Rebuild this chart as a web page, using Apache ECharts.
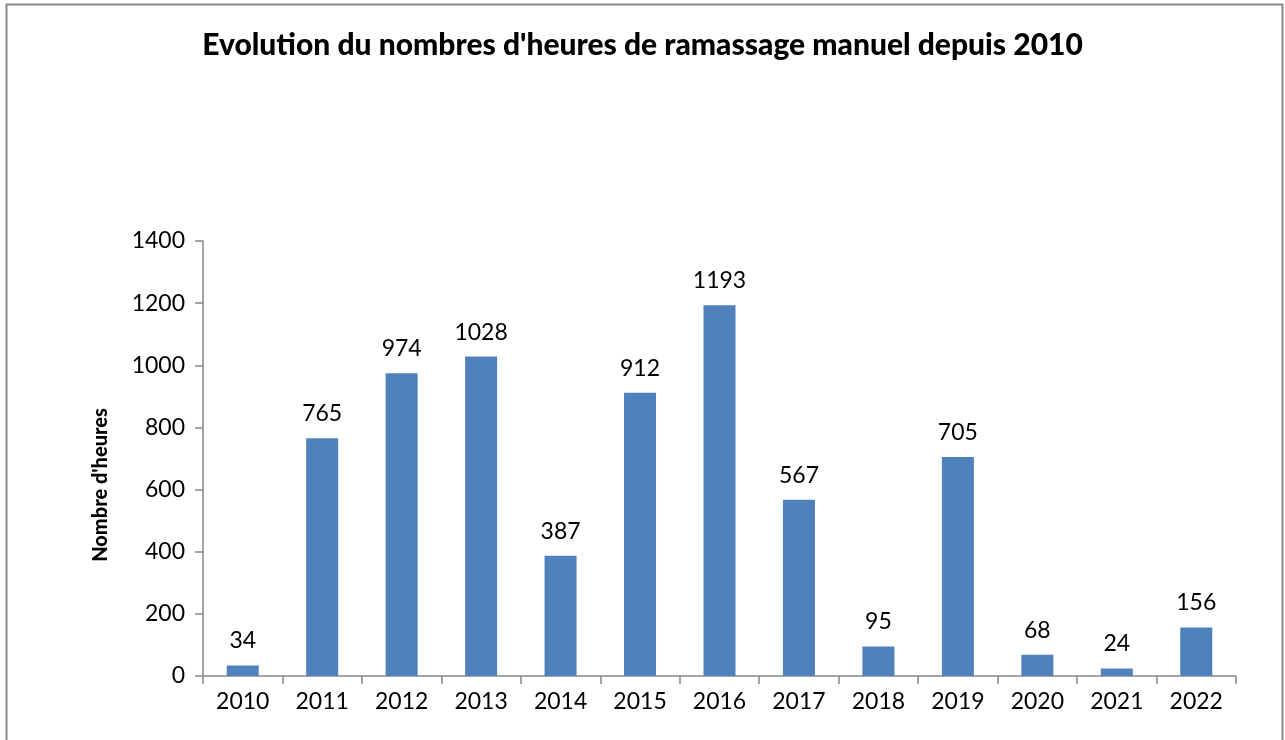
<!DOCTYPE html>
<html>
<head>
<meta charset="utf-8">
<script src="https://cdn.jsdelivr.net/npm/echarts@6/dist/echarts.min.js"></script>
<style>
html,body{margin:0;padding:0;background:#fff;}
#chart{width:1285px;height:740px;}
</style>
</head>
<body>
<div id="chart"></div>
<script>
const categories = ['2010','2011','2012','2013','2014','2015','2016','2017','2018','2019','2020','2021','2022'];
const hours = [34, 765, 974, 1028, 387, 912, 1193, 567, 95, 705, 68, 24, 156];
const yTicks = {min: 0, max: 1400, interval: 200};
const titleText = "Evolution du nombres d'heures de ramassage manuel depuis 2010";
const yAxisName = "Nombre d'heures";

const chart = echarts.init(document.getElementById('chart'), null, {renderer: 'canvas'});
const axisColor = '#868686';
const font = 'Lato, "Open Sans", sans-serif';
chart.setOption({
  backgroundColor: '#fff',
  animation: false,
  title: {
    text: titleText,
    left: 'center',
    top: 25,
    textStyle: {fontFamily: font, fontWeight: 900, fontSize: 30, color: '#000'}
  },
  graphic: [
    {type: 'rect', shape: {x: 6.5, y: 4.5, width: 1276, height: 760}, style: {fill: 'none', stroke: '#878787', lineWidth: 2}, silent: true},
    {type: 'text', x: 101, y: 485, rotation: Math.PI / 2,
     style: {text: yAxisName, fontFamily: font, fontWeight: 900, fontSize: 20, fill: '#000', align: 'center', verticalAlign: 'middle'}}
  ],
  grid: {left: 203, right: 49, top: 241, bottom: 64, containLabel: false},
  xAxis: {
    type: 'category',
    data: categories,
    axisLine: {lineStyle: {color: axisColor, width: 1.5}},
    axisTick: {show: true, length: 8, lineStyle: {color: axisColor, width: 1.5}},
    axisLabel: {fontFamily: font, fontSize: 23, color: '#000', margin: 14}
  },
  yAxis: {
    type: 'value',
    min: yTicks.min, max: yTicks.max, interval: yTicks.interval,
    axisLine: {show: true, lineStyle: {color: axisColor, width: 1.5}},
    axisTick: {show: true, length: 8, lineStyle: {color: axisColor, width: 1.5}},
    splitLine: {show: false},
    axisLabel: {fontFamily: font, fontSize: 23, color: '#000', margin: 18, formatter: function (v) { return String(v); }}
  },
  series: [{
    type: 'bar',
    data: hours,
    barWidth: 32,
    itemStyle: {color: '#4F81BD'},
    label: {show: true, position: 'top', distance: 13, fontFamily: font, fontSize: 23, color: '#000'}
  }]
});
</script>
</body>
</html>
